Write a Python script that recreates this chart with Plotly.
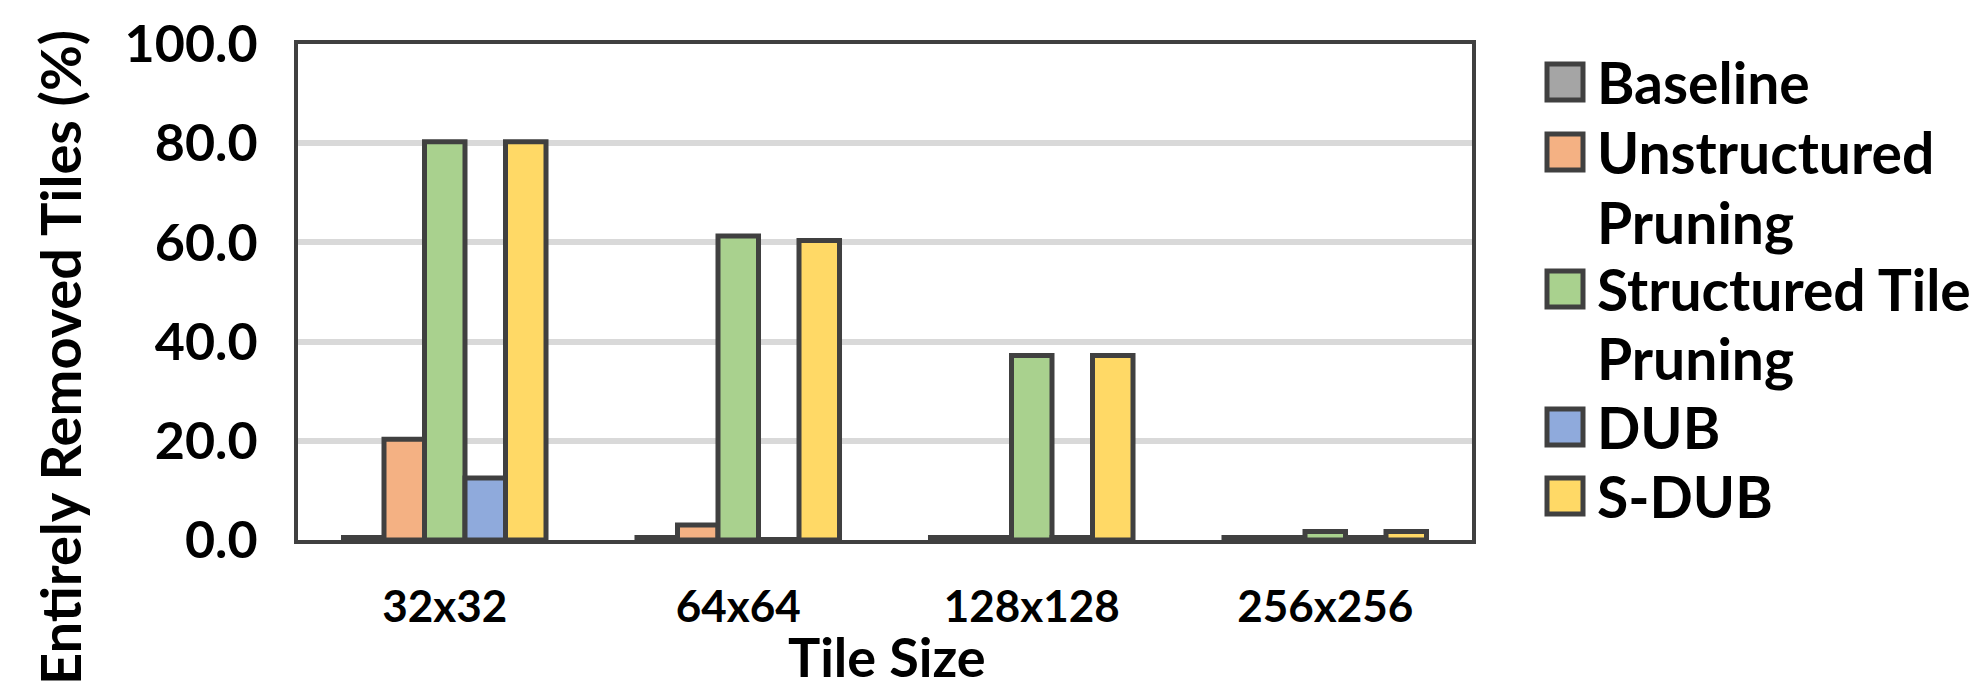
import plotly.graph_objects as go

# ---- data ----
tile_sizes = ["32x32", "64x64", "128x128", "256x256"]
series_names = ["Baseline", "Unstructured Pruning", "Structured Tile Pruning", "DUB", "S-DUB"]
legend_labels = ["Baseline", "Unstructured<br>Pruning", "Structured Tile<br>Pruning", "DUB", "S-DUB"]
baseline = [0.5, 0.5, 0.5, 0.5]
unstructured = [20.3, 3.0, 0.5, 0.5]
structured_tile = [80.3, 61.3, 37.2, 1.7]
dub = [12.5, 0.1, 0.5, 0.5]
s_dub = [80.3, 60.4, 37.2, 1.7]
y_ticks = [0, 20, 40, 60, 80, 100]

series_values = [baseline, unstructured, structured_tile, dub, s_dub]
colors = ["#a5a5a5", "#f4b183", "#a9d18e", "#8faadc", "#ffd966"]
edge = "#404040"

W, H = 1986, 695
L, R, T, B = 298, 1472, 44, 540  # plot area in pixels


def xp(X):
    return (X - L) / (R - L)


def yp(Y):
    return (B - Y) / (B - T)


FONT = "Lato"

fig = go.Figure()
for name, vals, c in zip(series_names, series_values, colors):
    fig.add_trace(go.Bar(
        x=tile_sizes, y=vals, name=name, showlegend=False,
        marker=dict(color=c, line=dict(color=edge, width=5)),
    ))

fig.update_layout(
    width=W, height=H, autosize=False,
    margin=dict(l=L, r=W - R, t=T, b=H - B, pad=0),
    paper_bgcolor="white", plot_bgcolor="white",
    barmode="group", bargap=0.31, bargroupgap=0,
    font=dict(family=FONT, color="black"),
)

fig.update_yaxes(
    range=[0, 100], tickvals=y_ticks, tickformat=".1f",
    tickfont=dict(family=FONT, size=52, weight="bold", color="black"),
    showgrid=True, gridcolor="#d9d9d9", gridwidth=6,
    zeroline=False, showline=True, mirror=True, linecolor=edge, linewidth=4,
    ticks="", ticklabelstandoff=26,
)
fig.update_xaxes(
    tickfont=dict(family=FONT, size=44, weight="bold", color="black"),
    showline=True, mirror=True, linecolor=edge, linewidth=4,
    ticks="", ticklabelstandoff=25,
)

annotations = [
    dict(text="Entirely Removed Tiles (%)", x=xp(59), y=yp(358), xref="paper", yref="paper",
         xanchor="center", yanchor="middle", textangle=-90, showarrow=False,
         font=dict(family=FONT, size=56, weight="bold", color="black")),
    dict(text="Tile Size", x=xp(887), y=yp(656), xref="paper", yref="paper",
         xanchor="center", yanchor="middle", showarrow=False,
         font=dict(family=FONT, size=54, weight="bold", color="black")),
]

# manual legend (large square swatches); each text line placed on its own row
row_centers = [[82], [152, 222], [289, 358], [427], [496]]
shapes = []
for lab, c, rows in zip(legend_labels, colors, row_centers):
    sy = rows[0]
    shapes.append(dict(type="rect", xref="paper", yref="paper",
                       x0=xp(1547), x1=xp(1583), y0=yp(sy + 18), y1=yp(sy - 18),
                       fillcolor=c, line=dict(color=edge, width=5)))
    for line_text, ty in zip(lab.split("<br>"), rows):
        annotations.append(dict(text=line_text, x=xp(1595), y=yp(ty), xref="paper", yref="paper",
                                xanchor="left", yanchor="middle", align="left", showarrow=False,
                                font=dict(family=FONT, size=57, weight="bold", color="black")))

fig.update_layout(annotations=annotations, shapes=shapes)

fig.write_html(
    "out.html",
    config={"displayModeBar": False},
    post_script="document.body.style.margin='0';document.body.style.overflow='hidden';",
)
